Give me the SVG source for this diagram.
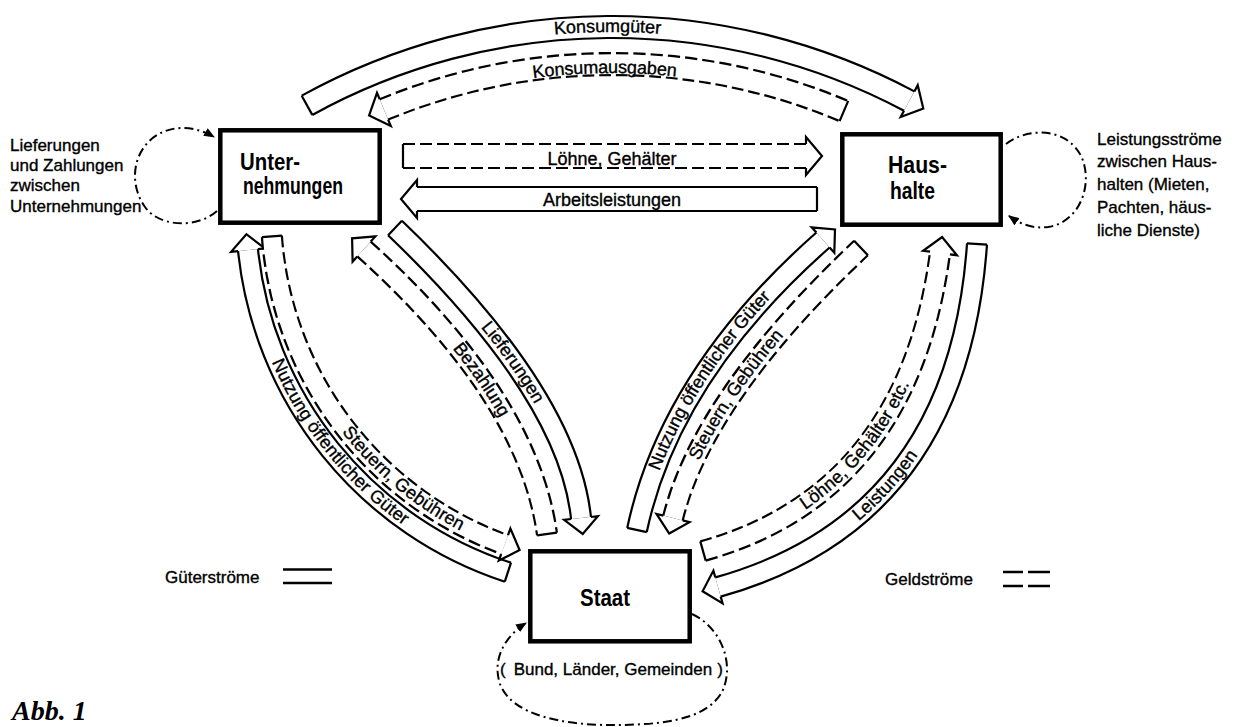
<svg xmlns="http://www.w3.org/2000/svg" width="1240" height="727" viewBox="0 0 1240 727">
<style>
text{font-family:"Liberation Sans",Arial,sans-serif;fill:#000}
.lbl{font-size:17px;stroke:#000;stroke-width:0.35}
.bl{font-size:18px;stroke:#000;stroke-width:0.35}
.box rect{fill:#fff;stroke:#000;stroke-width:4.5}
.bx{font-size:24px;font-weight:bold}
.o24{fill:none;stroke:#000;stroke-width:26.2}
.i24{fill:none;stroke:#fff;stroke-width:21.8}
.o22{fill:none;stroke:#000;stroke-width:24.2}
.i22{fill:none;stroke:#fff;stroke-width:19.8}
.o20{fill:none;stroke:#000;stroke-width:22.2}
.i20{fill:none;stroke:#fff;stroke-width:17.8}
.d{stroke-dasharray:12 5}
.hd{fill:none;stroke:#000;stroke-width:2.2;stroke-linejoin:miter}
.loop{fill:none;stroke:#000;stroke-width:2;stroke-dasharray:9 4 2 4}
.leg{stroke:#000;stroke-width:2.5;fill:none}
</style>
<defs>
<marker id="ah" viewBox="0 0 10 8" refX="9" refY="4" markerWidth="11" markerHeight="9" markerUnits="userSpaceOnUse" orient="auto"><path d="M0,0 L10,4 L0,8 z" fill="#000"/></marker>
<path id="pKg" d="M307,105.3 A633,633 0 0 1 909.2,101.1"/>
<path id="pKa" d="M383.9,109.4 A596,596 0 0 1 843.9,111"/>
<path id="pLG" d="M403,156 H806"/>
<path id="pAL" d="M417,199 H817"/>
<path id="pA" d="M248,250.1 A380,380 0 0 0 507.9,572.2"/>
<path id="pB" d="M271.9,236.4 A355,355 0 0 0 504.6,544.6"/>
<path id="pC" d="M364,249 Q528,397 547,534"/>
<path id="pD" d="M395,228 Q568,394 581,518"/>
<path id="pE" d="M637,530 Q670,375 823,240"/>
<path id="pF" d="M673,518 Q703,397 861,248"/>
<path id="pG" d="M703,551 Q908,494 940,253"/>
<path id="pH" d="M718,587 Q958,520 977,244"/>
</defs>
<rect width="1240" height="727" fill="#fff"/>

<g id="connectors">
<g id="f-konsumgueter">
<use href="#pKg" class="o22"/><use href="#pKg" class="i22"/>
<line class="hd" x1="301.7" y1="95.7" x2="312.3" y2="114.9"/>
<polyline class="hd" points="914.4,91.4 917.7,85.2 923.3,108.6 900.7,117 904,110.8"/>
<text class="bl" dy="5"><textPath href="#pKg" startOffset="50%" text-anchor="middle">Konsumgüter</textPath></text>
</g>
<g id="f-konsumausgaben">
<use href="#pKa" class="o22 d"/><use href="#pKa" class="i22"/>
<polyline class="hd" points="379.7,99.2 377,92.8 369.1,115.5 390.8,126 388.1,119.6"/>
<line class="hd" x1="848.2" y1="100.9" x2="839.6" y2="121.1"/>
<text class="bl" dy="9"><textPath href="#pKa" startOffset="48%" text-anchor="middle">Konsumausgaben</textPath></text>
</g>
<g id="f-loehne">
<use href="#pLG" class="o24 d"/><use href="#pLG" class="i24"/>
<line class="hd" x1="403" y1="144" x2="403" y2="168"/>
<polyline class="hd" points="806,144 806,137 822,156 806,175 806,168"/>
<text class="bl" x="612" y="165" text-anchor="middle">Löhne, Gehälter</text>
</g>
<g id="f-arbeit">
<use href="#pAL" class="o24"/><use href="#pAL" class="i24"/>
<line class="hd" x1="817" y1="187" x2="817" y2="211"/>
<polyline class="hd" points="417,187 417,180 401,199 417,218 417,211"/>
<text class="bl" x="612" y="205.5" text-anchor="middle">Arbeitsleistungen</text>
</g>
<g id="f-nutzung-u">
<use href="#pA" class="o20"/><use href="#pA" class="i20"/>
<polyline class="hd" points="238.1,251.1 231.1,251.8 246.4,234.2 264.9,248.4 257.9,249.1"/>
<line class="hd" x1="504.8" y1="581.7" x2="511" y2="562.7"/>
<text class="bl" dy="5"><textPath href="#pA" startOffset="50%" text-anchor="middle">Nutzung öffentlicher Güter</textPath></text>
</g>
<g id="f-steuern-u">
<use href="#pB" class="o20 d"/><use href="#pB" class="i20"/>
<line class="hd" x1="261.9" y1="237.1" x2="281.9" y2="235.7"/>
<polyline class="hd" points="501.2,554 498.8,560.6 519.6,550.1 510.4,528.6 508,535.2"/>
<text class="bl" dy="5"><textPath href="#pB" startOffset="70%" text-anchor="middle">Steuern, Gebühren</textPath></text>
</g>
<g id="f-bezahlung">
<use href="#pC" class="o20 d"/><use href="#pC" class="i20"/>
<polyline class="hd" points="370.7,241.6 375.4,236.4 352.1,238.3 352.6,261.6 357.3,256.4"/>
<line class="hd" x1="537.1" y1="535.4" x2="556.9" y2="532.6"/>
<text class="bl" dy="5"><textPath href="#pC" startOffset="51%" text-anchor="middle">Bezahlung</textPath></text>
</g>
<g id="f-lieferungen">
<use href="#pD" class="o20"/><use href="#pD" class="i20"/>
<line class="hd" x1="388.1" y1="235.2" x2="401.9" y2="220.8"/>
<polyline class="hd" points="571.1,519 564.1,519.8 582.7,533.9 597.9,516.2 590.9,517"/>
<text class="bl" dy="5"><textPath href="#pD" startOffset="51%" text-anchor="middle">Lieferungen</textPath></text>
</g>
<g id="f-nutzung-h">
<use href="#pE" class="o20"/><use href="#pE" class="i20"/>
<line class="hd" x1="646.8" y1="532.1" x2="627.2" y2="527.9"/>
<polyline class="hd" points="829.6,247.5 834.3,252.8 835,229.4 811.7,227.3 816.4,232.5"/>
<text class="bl" dy="5"><textPath href="#pE" startOffset="48%" text-anchor="middle">Nutzung öffentlicher Güter</textPath></text>
</g>
<g id="f-steuern-h">
<use href="#pF" class="o20 d"/><use href="#pF" class="i20"/>
<polyline class="hd" points="663.3,515.6 656.5,513.9 669.2,533.5 689.5,522.1 682.7,520.4"/>
<line class="hd" x1="867.9" y1="255.3" x2="854.1" y2="240.7"/>
<text class="bl" dy="5"><textPath href="#pF" startOffset="42%" text-anchor="middle">Steuern, Gebühren</textPath></text>
</g>
<g id="f-loehne-etc">
<use href="#pG" class="o20 d"/><use href="#pG" class="i20"/>
<line class="hd" x1="705.7" y1="560.6" x2="700.3" y2="541.4"/>
<polyline class="hd" points="949.9,254.3 956.9,255.2 942.1,237.1 923.1,250.8 930.1,251.7"/>
<text class="bl" dy="5"><textPath href="#pG" startOffset="47%" text-anchor="middle">Löhne, Gehälter etc.</textPath></text>
</g>
<g id="f-leistungen">
<use href="#pH" class="o20"/><use href="#pH" class="i20"/>
<polyline class="hd" points="715.3,577.4 713.4,570.6 702.6,591.3 722.6,603.4 720.7,596.6"/>
<line class="hd" x1="987" y1="244.7" x2="967" y2="243.3"/>
<text class="bl" dy="5"><textPath href="#pH" startOffset="43%" text-anchor="middle">Leistungen</textPath></text>
</g>
<g id="loops">
<path class="loop" marker-end="url(#ah)" d="M217,211 C198,228 160,228 145,207 C128,183 133,150 157,135 C175,124 197,127 214,137"/>
<path class="loop" marker-end="url(#ah)" d="M1006,144 C1028,127 1068,127 1082,158 C1093,185 1080,222 1048,227 C1033,229 1020,224 1009,216"/>
<path class="loop" marker-end="url(#ah)" d="M692,614 C722,628 735,665 722,692 C705,722 655,725 611,725 C565,725 512,716 500,684 C492,660 504,637 526,623"/>
</g>
</g>

<g id="node-unternehmungen" class="box">
<rect x="220.3" y="130.3" width="159.4" height="92.4"/>
<text class="bx" x="240" y="170" textLength="60" lengthAdjust="spacingAndGlyphs">Unter-</text>
<text class="bx" x="243" y="194" textLength="100" lengthAdjust="spacingAndGlyphs">nehmungen</text>
</g>
<g id="node-haushalte" class="box">
<rect x="842.3" y="134.3" width="158.4" height="90.4"/>
<text class="bx" x="888" y="173" textLength="59" lengthAdjust="spacingAndGlyphs">Haus-</text>
<text class="bx" x="890" y="199" textLength="45" lengthAdjust="spacingAndGlyphs">halte</text>
</g>
<g id="node-staat" class="box">
<rect x="530.3" y="551.3" width="159.4" height="90"/>
<text class="bx" x="580" y="606" font-size="26" textLength="50" lengthAdjust="spacingAndGlyphs">Staat</text>
</g>

<g id="label-unternehmungen-loop">
<text class="lbl" x="10" y="151">Lieferungen</text>
<text class="lbl" x="10" y="171">und Zahlungen</text>
<text class="lbl" x="10" y="191">zwischen</text>
<text class="lbl" x="10" y="212">Unternehmungen</text>
</g>
<g id="label-haushalte-loop">
<text class="lbl" x="1097" y="145">Leistungsströme</text>
<text class="lbl" x="1097" y="167">zwischen Haus-</text>
<text class="lbl" x="1097" y="190">halten (Mieten,</text>
<text class="lbl" x="1097" y="213">Pachten, häus-</text>
<text class="lbl" x="1097" y="236">liche Dienste)</text>
</g>
<g id="label-staat-loop">
<text class="lbl" x="500" y="675" font-size="17.5">(<tspan dx="8">Bund, Länder, Gemeinden</tspan><tspan dx="5">)</tspan></text>
</g>

<g id="legend">
<text class="lbl" x="165" y="583">Güterströme</text>
<path class="leg" d="M283,569.5 H332 M283,583 H332"/>
<text class="lbl" x="885" y="585">Geldströme</text>
<path class="leg" d="M1003,572 H1023 M1028,572 H1050 M1003,586 H1023 M1028,586 H1050"/>
</g>
<text x="12" y="720" style="font-family:'Liberation Serif','Times New Roman',serif;font-size:28px;font-weight:bold;font-style:italic">Abb. 1</text>
</svg>
